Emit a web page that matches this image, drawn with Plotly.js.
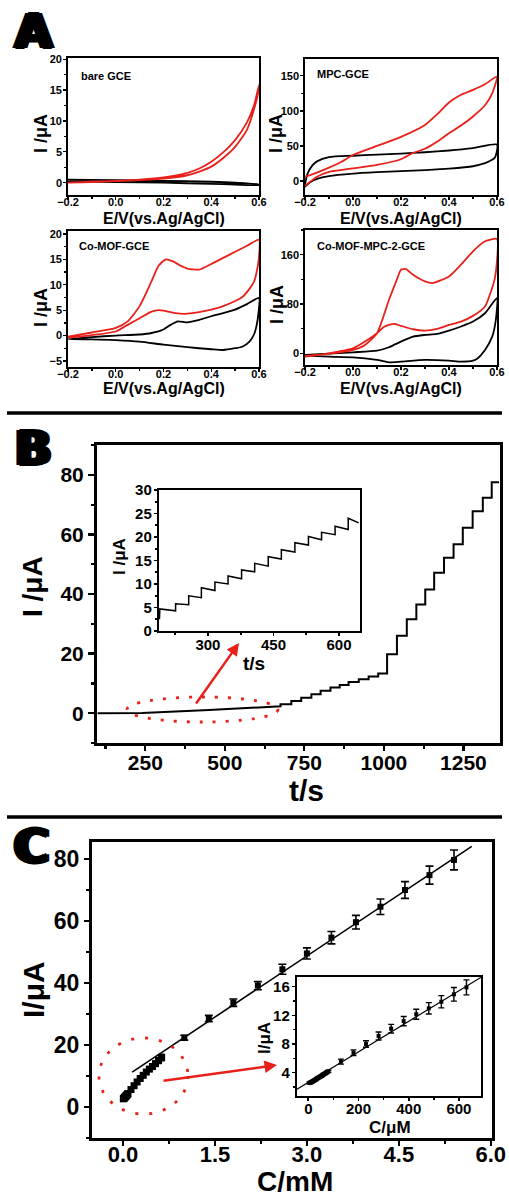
<!DOCTYPE html>
<html><head><meta charset="utf-8">
<script src="https://cdn.plot.ly/plotly-3.0.1.min.js"></script>
<style>html,body{margin:0;padding:0;background:#fff}#plot{width:509px;height:1199px}</style>
</head><body><div id="plot"></div>
<script>
// ---------- Panel A: cyclic voltammograms (E in V, I in uA) ----------
const bareRedE = [-0.2,-0.1,0,0.1,0.2,0.3,0.35,0.4,0.45,0.5,0.55,0.58,0.6, 0.6,0.58,0.55,0.5,0.45,0.4,0.35,0.3,0.2,0.1,0,-0.1,-0.2];
const bareRedI = [0,0.15,0.3,0.5,0.85,1.6,2.3,3.4,4.9,6.9,9.8,12.6,15.8, 15.4,12.0,8.6,5.8,4.0,2.6,1.8,1.2,0.65,0.4,0.25,0.1,0];
const bareBlackE = [-0.2,0,0.2,0.4,0.5,0.6, 0.6,0.5,0.4,0.2,0,-0.2];
const bareBlackI = [0.5,0.4,0.3,0.15,0,-0.3, -0.4,-0.3,-0.2,0,0.1,0.2];

const mpcRedE = [-0.2,-0.15,-0.1,-0.05,0,0.1,0.2,0.3,0.35,0.4,0.45,0.5,0.55,0.6, 0.58,0.55,0.5,0.45,0.4,0.35,0.3,0.25,0.2,0.1,0,-0.1,-0.15,-0.2];
const mpcRedI = [6,12,19,27,37,50,63,80,95,112,123,130,138,149, 125,108,92,79,68,56,46,40,31,23,18,13,6,-7];
const mpcBlackE = [-0.2,-0.19,-0.17,-0.15,-0.1,0,0.1,0.2,0.3,0.4,0.5,0.6, 0.598,0.59,0.57,0.55,0.5,0.4,0.3,0.2,0.1,0,-0.1,-0.15,-0.18,-0.2];
const mpcBlackI = [-8,10,22,28,34,36,37.5,39,41,43.5,47,52, 40,33,28.5,25.5,21,17.5,15.5,14,12.5,10.5,7,3,-2,-8];

const mofRedE = [-0.2,-0.1,0,0.05,0.1,0.15,0.18,0.21,0.24,0.27,0.3,0.35,0.4,0.45,0.5,0.55,0.6, 0.6,0.59,0.58,0.56,0.53,0.5,0.45,0.4,0.3,0.25,0.2,0.18,0.15,0.1,0.05,0,-0.1,-0.2];
const mofRedI = [-0.2,0.6,1.5,2.8,5.8,10.7,13.8,15,14.6,13.8,13.2,13.0,14.1,15.3,16.5,17.7,18.9, 15.5,12.5,10.7,9.2,7.6,6.8,5.8,5.1,4.3,4.4,4.9,5.0,4.7,3.4,2.1,0.8,0.1,-0.4];
const mofBlackE = [-0.2,-0.1,0,0.1,0.15,0.2,0.23,0.26,0.3,0.35,0.4,0.45,0.5,0.55,0.6, 0.598,0.59,0.58,0.56,0.53,0.5,0.45,0.4,0.3,0.2,0.1,0,-0.1,-0.2];
const mofBlackI = [-0.7,-0.3,0,0.2,0.5,1.2,2.1,2.8,2.6,3.1,3.8,4.4,5.1,6.2,7.4, 4.5,2,0.3,-1.2,-2.2,-2.5,-2.85,-2.7,-2.3,-1.8,-1.2,-0.9,-0.75,-0.7];

const mmRedE = [-0.2,-0.1,0,0.05,0.1,0.15,0.18,0.2,0.22,0.25,0.3,0.33,0.4,0.45,0.5,0.55,0.6, 0.6,0.59,0.57,0.55,0.5,0.45,0.4,0.35,0.3,0.25,0.2,0.17,0.13,0.1,0.05,0,-0.1,-0.2];
const mmRedI = [-4.3,-1,5.4,13.5,32.5,86.8,116.6,135.6,136.7,127.4,116.6,113.9,124.7,143.7,165.4,181.7,185.5, 150,120,95,76,60.7,51.5,46,39.6,36.9,39,44.5,47.7,43,32.5,19,8,0,-5.4];
const mmBlackE = [-0.2,0,0.1,0.15,0.2,0.25,0.3,0.35,0.4,0.45,0.5,0.55,0.6, 0.595,0.58,0.55,0.52,0.5,0.45,0.4,0.3,0.2,0.15,0.1,0,-0.1,-0.2];
const mmBlackI = [-2.7,1.6,4.3,9.8,19,27,29.8,31.5,36.9,43.4,51.5,65,89.5, 54,27,5.4,-8,-12,-13.5,-12,-10.8,-13.5,-14.6,-10.8,-6.5,-5.4,-3.8];

const aLabels = ['bare GCE','MPC-GCE','Co-MOF-GCE','Co-MOF-MPC-2-GCE'];
const aXTicks = [-0.2,0.0,0.2,0.4,0.6];
const a1YTicks = [0,5,10,15,20];
const a2YTicks = [0,50,100,150];
const a3YTicks = [-5,0,5,10,15,20];
const a4YTicks = [0,80,160];

// ---------- Panel B: amperometric i-t ----------
const bBaseT = [100,240,450,670];
const bBaseI = [0,0.1,1.1,2.3];
const bStepT = [675,709,740,772,801,832,861,889,921,952,982,1010,1041,1072,1102,1130,1158,1189,1219,1248,1279,1311,1339];
const bStepI = [3.0,4.1,5.2,6.4,7.5,8.6,9.5,10.5,11.4,12.3,13.3,19.8,26.0,31.5,36.5,41.5,47.1,52.2,56.7,62.2,67.8,72.3,77.5];
const bEndT = 1362;
const bXTicks = [250,500,750,1000,1250];
const bYTicks = [0,20,40,60,80];

const biStartT = 189, biStartI0 = 2.5, biEndT = 645;
const biStepT = [190,226,256,285,316,346,377,407,438,468,499,530,560,591,621];
const biStepStartI = [4.7,5.8,7.5,9.2,10.4,11.7,13.0,14.4,15.8,17.3,18.8,20.1,21.0,22.3,24.0];
const biStepEndI = [4.3,5.6,7.1,8.6,10.0,11.1,12.6,13.8,15.3,16.8,18.3,19.4,20.5,21.6,23.0];
const biXTicks = [300,450,600];
const biYTicks = [0,5,10,15,20,25,30];

// ---------- Panel C: calibration ----------
const cHighC = [1.0,1.4,1.8,2.2,2.6,3.0,3.4,3.8,4.2,4.6,5.0,5.4];           // mM
const cHighI = [22.3,28.5,33.6,39.1,44.4,49.5,54.6,59.6,64.6,70.0,74.8,79.7];
const cHighErr = [0.8,1.0,1.2,1.3,1.6,1.8,2.0,2.2,2.5,2.7,2.9,3.2];
const cFitC = [0.15,5.69];
const cFitI = [11.2,84.1];
const cLowC = [5,10,15,20,25,30,35,40,45,50,55,60,65,70,75,80,130,180,230,280,330,380,430,480,530,580,630]; // uM
const cLowI = [2.55,2.65,2.75,2.85,2.95,3.05,3.2,3.3,3.4,3.5,3.6,3.75,3.85,3.95,4.1,4.2,5.54,6.79,8.0,9.12,10.14,11.2,12.15,12.98,13.9,14.93,15.9];
const cLowErr = [0.15,0.15,0.15,0.15,0.15,0.15,0.15,0.15,0.15,0.15,0.15,0.15,0.15,0.15,0.15,0.15,0.35,0.4,0.45,0.55,0.6,0.65,0.7,0.8,0.85,0.95,1.05];
const ciFitC = [-45,688];
const ciFitI = [1.69,17.3];
const cXTicks = [0,1.5,3.0,4.5,6.0];
const cYTicks = [0,20,40,60,80];
const ciXTicks = [0,200,400,600];
const ciYTicks = [4,8,12,16];

// ---------- layout helpers ----------
const W = 509, H = 1199;
const FONT = 'Liberation Sans, Arial, sans-serif';
const dx = (l, r) => [l / W, r / W];
const dy = (t, b) => [1 - b / H, 1 - t / H];
const px = x => x / W, py = y => 1 - y / H;

function axis(o) {
  return {
    showline: true, mirror: true, linecolor: '#000', showgrid: false, zeroline: false,
    ticks: 'outside', tickcolor: '#000', tickmode: 'array', fixedrange: true,
    tickfont: {family: FONT, size: o.fs, color: '#000', weight: 'bold'},
    minor: {ticks: 'outside', ticklen: o.minlen, tickwidth: o.tw, tickcolor: '#000', dtick: o.mdt, tick0: 0},
    linewidth: o.lw, tickwidth: o.tw, ticklen: o.tl, ticklabelstandoff: o.so || 0
  };
}
function mk(o, domain, range, tickvals, anchor, fmt) {
  const a = axis(o);
  a.domain = domain; a.range = range; a.tickvals = tickvals; a.anchor = anchor;
  if (fmt) a.tickformat = fmt;
  return a;
}
const S = (base, extra) => Object.assign({}, base, extra);

const AX = {fs: 11, lw: 1.8, tw: 1.3, tl: 3, minlen: 2, so: -7};
const AY = {fs: 11, lw: 1.8, tw: 1.3, tl: 3, minlen: 2, so: -1};
const BX = {fs: 21, lw: 3, tw: 2.2, tl: 5, minlen: 3, so: -6};
const BY = {fs: 21, lw: 3, tw: 2.2, tl: 6, minlen: 3, so: 0};
const BIX = {fs: 15, lw: 2.2, tw: 1.6, tl: 3, minlen: 2, so: -4};
const BIY = {fs: 15, lw: 2.2, tw: 1.6, tl: 3, minlen: 2, so: -1};
const CX = {fs: 22, lw: 3, tw: 2.2, tl: 5, minlen: 3, so: -10};
const CY = {fs: 23, lw: 3, tw: 2.2, tl: 5, minlen: 3, so: 0};
const CIX = {fs: 15, lw: 2.2, tw: 1.6, tl: 3, minlen: 2, so: -5};
const CIY = {fs: 15, lw: 2.2, tw: 1.6, tl: 3, minlen: 2, so: -1};

const layout = {
  width: W, height: H, margin: {l: 0, r: 0, t: 0, b: 0},
  paper_bgcolor: '#fff', plot_bgcolor: '#fff', showlegend: false,
  font: {family: FONT, color: '#000'},
  xaxis:  mk(S(AX, {mdt: 0.1}), dx(68, 259), [-0.2, 0.6], aXTicks, 'y', '.1f'),
  yaxis:  mk(S(AY, {mdt: 2.5}), dy(58, 195), [-2, 20.2], a1YTicks, 'x'),
  xaxis2: mk(S(AX, {mdt: 0.1}), dx(305, 497), [-0.2, 0.6], aXTicks, 'y2', '.1f'),
  yaxis2: mk(S(AY, {mdt: 25}), dy(59, 195), [-20, 174], a2YTicks, 'x2'),
  xaxis3: mk(S(AX, {mdt: 0.1}), dx(68, 259), [-0.2, 0.6], aXTicks, 'y3', '.1f'),
  yaxis3: mk(S(AY, {mdt: 2.5}), dy(231, 367), [-6.2, 20.6], a3YTicks, 'x3'),
  xaxis4: mk(S(AX, {mdt: 0.1}), dx(305, 497), [-0.2, 0.6], aXTicks, 'y4', '.1f'),
  yaxis4: mk(S(AY, {mdt: 40}), dy(230, 365), [-19, 200], a4YTicks, 'x4'),
  xaxis5: mk(S(BX, {mdt: 125}), dx(97, 500), [98, 1365], bXTicks, 'y5'),
  yaxis5: mk(S(BY, {mdt: 10}), dy(445, 743), [-10, 90], bYTicks, 'x5'),
  xaxis6: mk(S(BIX, {mdt: 75}), dx(159, 360), [188, 648], biXTicks, 'y6'),
  yaxis6: mk(S(BIY, {mdt: 2.5}), dy(490, 631), [0, 30], biYTicks, 'x6'),
  xaxis7: mk(S(CX, {mdt: 0.75}), dx(92, 492), [-0.506, 6.02], cXTicks, 'y7', '.1f'),
  yaxis7: mk(S(CY, {mdt: 10}), dy(842, 1138), [-10.1, 85.5], cYTicks, 'x7'),
  xaxis8: mk(S(CIX, {mdt: 100}), dx(297, 481), [-45, 688], ciXTicks, 'y8'),
  yaxis8: mk(S(CIY, {mdt: 2}), dy(977, 1096), [0.75, 17.35], ciYTicks, 'x8'),
  shapes: [], annotations: []
};

// separators
[413, 817].forEach(y => layout.shapes.push({type: 'line', xref: 'paper', yref: 'paper',
  x0: px(7), x1: px(502), y0: py(y), y1: py(y), line: {color: '#000', width: 3.5}}));
// dotted ellipses
layout.shapes.push({type: 'circle', xref: 'paper', yref: 'paper', x0: px(127), x1: px(278), y0: py(722), y1: py(697),
  line: {color: '#e8201a', width: 2.8, dash: '3px,10px'}});
layout.shapes.push({type: 'circle', xref: 'paper', yref: 'paper', x0: px(99), x1: px(188), y0: py(1114), y1: py(1038),
  line: {color: '#e8201a', width: 2.8, dash: '3px,11px'}});

function ann(text, x, y, size, extra) {
  layout.annotations.push(Object.assign({text, xref: 'paper', yref: 'paper', x: px(x), y: py(y), showarrow: false,
    xanchor: 'center', yanchor: 'middle', font: {family: FONT, size, color: '#000', weight: 'bold'}}, extra || {}));
}
const heavy = {font: {family: 'DejaVu Sans, Liberation Sans', size: 48, color: '#000', weight: 'bold',
  shadow: '1.5px 0 0 #000, -1.5px 0 0 #000, 0 1px 0 #000, 0 -1px 0 #000, 3px 0 0 #000, -3px 0 0 #000'}};
ann('A', 33, 31, 48, heavy);
ann('B', 33, 448, 48, heavy);
ann('C', 31, 846, 48, heavy);

// Panel A titles/labels
[[163.5, 218], [401, 218], [163.5, 389], [401, 389]].forEach(p => ann('E/V(vs.Ag/AgCl)', p[0], p[1], 16));
[[41, 134], [276, 134], [41, 308], [277, 305]].forEach(p => ann('I /μA', p[0], p[1], 18, {textangle: -90}));
[[79, 76], [315, 74], [77, 246], [315, 246]].forEach((p, i) => ann(aLabels[i], p[0], p[1], 11, {xanchor: 'left'}));

// Panel B
ann('I /μA', 32, 586, 28, {textangle: -90});
ann('t/s', 306, 790, 30);
ann('I /μA', 119, 557, 17, {textangle: -90});
ann('t/s', 254, 663, 19);
// Panel C
ann('I/μA', 33, 990, 30, {textangle: -90});
ann('C/mM', 295, 1198, 28, {yanchor: 'bottom', borderpad: 0});
ann('I/μA', 264, 1038, 17, {textangle: -90});
ann('C/μM', 390, 1127, 17);

// arrows
layout.annotations.push({x: px(239), y: py(643), xref: 'paper', yref: 'paper', ax: -44, ay: 62, text: '',
  showarrow: true, arrowhead: 2, arrowsize: 1, arrowwidth: 2.5, arrowcolor: '#e8201a'});
layout.annotations.push({x: px(277), y: py(1065), xref: 'paper', yref: 'paper', ax: -115, ay: 16, text: '',
  showarrow: true, arrowhead: 2, arrowsize: 1, arrowwidth: 2.5, arrowcolor: '#e8201a'});

// ---------- traces ----------
const RED = '#e8201a', BLK = '#000';
function cv(x, y, color, xa, ya) {
  return {x, y, xaxis: xa, yaxis: ya, type: 'scatter', mode: 'lines',
    line: {color, width: 1.8, shape: 'spline', smoothing: 0.6}, hoverinfo: 'skip'};
}
const traces = [
  cv(bareBlackE, bareBlackI, BLK, 'x', 'y'), cv(bareRedE, bareRedI, RED, 'x', 'y'),
  cv(mpcBlackE, mpcBlackI, BLK, 'x2', 'y2'), cv(mpcRedE, mpcRedI, RED, 'x2', 'y2'),
  cv(mofBlackE, mofBlackI, BLK, 'x3', 'y3'), cv(mofRedE, mofRedI, RED, 'x3', 'y3'),
  cv(mmBlackE, mmBlackI, BLK, 'x4', 'y4'), cv(mmRedE, mmRedI, RED, 'x4', 'y4')
];

// B main staircase
{
  const x = bBaseT.slice(), y = bBaseI.slice();
  let prev = bBaseI[bBaseI.length - 1];
  bStepT.forEach((t, i) => { x.push(t, t); y.push(prev, bStepI[i]); prev = bStepI[i]; });
  x.push(bEndT); y.push(prev);
  traces.push({x, y, xaxis: 'x5', yaxis: 'y5', type: 'scatter', mode: 'lines', line: {color: BLK, width: 2}});
}
// B inset staircase
{
  const x = [biStartT], y = [biStartI0];
  biStepT.forEach((t, i) => {
    const nt = i < biStepT.length - 1 ? biStepT[i + 1] : biEndT;
    x.push(t, nt); y.push(biStepStartI[i], biStepEndI[i]);
  });
  traces.push({x, y, xaxis: 'x6', yaxis: 'y6', type: 'scatter', mode: 'lines', line: {color: BLK, width: 1.5}});
}
// C main
const errStyle = (arr, w, th) => ({type: 'data', array: arr, visible: true, color: BLK, thickness: th, width: w});
traces.push({x: cFitC, y: cFitI, xaxis: 'x7', yaxis: 'y7', type: 'scatter', mode: 'lines', line: {color: BLK, width: 1.6}});
traces.push({x: cHighC, y: cHighI, xaxis: 'x7', yaxis: 'y7', type: 'scatter', mode: 'markers',
  marker: {symbol: 'square', size: 6, color: BLK}, error_y: errStyle(cHighErr, 4, 1.6)});
traces.push({x: cLowC.map(c => c / 1000), y: cLowI, xaxis: 'x7', yaxis: 'y7', type: 'scatter', mode: 'markers',
  marker: {symbol: 'square', size: 7, color: BLK}, error_y: errStyle(cLowErr, 3, 1.5)});
// C inset
traces.push({x: ciFitC, y: ciFitI, xaxis: 'x8', yaxis: 'y8', type: 'scatter', mode: 'lines', line: {color: BLK, width: 1.2}});
traces.push({x: cLowC, y: cLowI, xaxis: 'x8', yaxis: 'y8', type: 'scatter', mode: 'markers',
  marker: {symbol: 'square', size: 4, color: BLK}, error_y: errStyle(cLowErr, 3, 1.4)});

Plotly.newPlot('plot', traces, layout, {staticPlot: true, displayModeBar: false});
</script></body></html>
